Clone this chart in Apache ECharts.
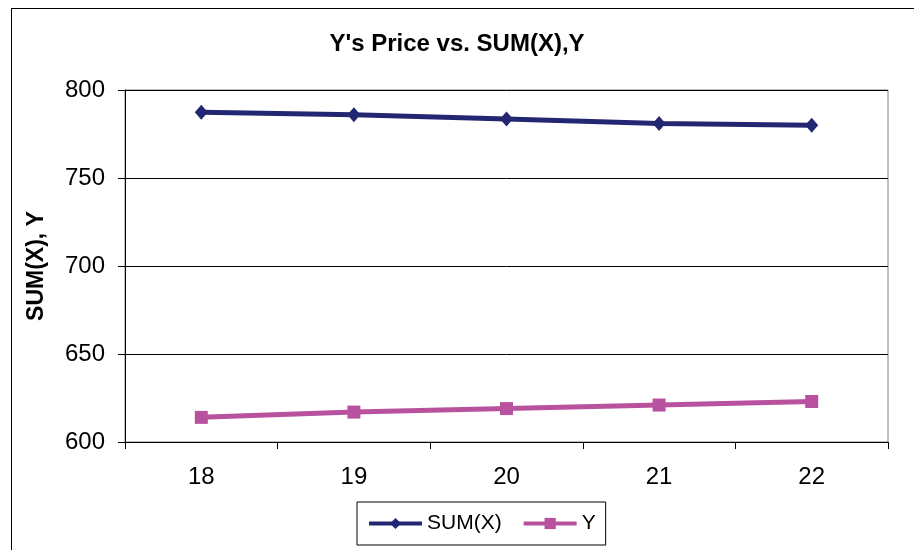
<!DOCTYPE html>
<html>
<head>
<meta charset="utf-8">
<script src="https://cdn.jsdelivr.net/npm/echarts@6/dist/echarts.min.js"></script>
<style>
  html, body { margin: 0; padding: 0; background: #fff; }
  #frame { position: absolute; left: 11px; top: 8px; width: 920px; height: 560px; border: 1px solid #000; box-sizing: border-box; }
  #main { width: 914px; height: 550px; position: absolute; left: 0; top: 0; }
</style>
</head>
<body>
<div id="frame"></div>
<div id="main"></div>
<script>
  // x categories
  var xLabels = ['18', '19', '20', '21', '22'];
  // series values
  var sumX = [787.3, 786, 783.5, 781, 780];
  var yVals = [614, 617, 619, 621, 623];

  var chart = echarts.init(document.getElementById('main'));
  chart.setOption({
    animation: false,
    title: {
      text: "Y's Price vs. SUM(X),Y",
      left: 'center',
      top: 27,
      textStyle: { fontFamily: 'Liberation Sans', fontSize: 24, fontWeight: 'bold', color: '#000' }
    },
    grid: { left: 125, top: 90, width: 763, height: 352, show: true, borderColor: '#808080', borderWidth: 1 },
    legend: {
      bottom: 5,
      left: 357,
      itemWidth: 53,
      itemHeight: 14,
      itemGap: 20,
      borderColor: '#000',
      borderWidth: 1,
      padding: [11, 10, 11, 10],
      lineStyle: { width: 4 },
      textStyle: { fontFamily: 'Liberation Sans', fontSize: 21, color: '#000' },
      data: ['SUM(X)', 'Y']
    },
    xAxis: {
      type: 'category',
      data: xLabels,
      boundaryGap: true,
      axisLine: { lineStyle: { color: '#000', width: 1 } },
      axisTick: { show: true, length: 7, lineStyle: { color: '#000' } },
      axisLabel: { fontFamily: 'Liberation Sans', fontSize: 24, color: '#000', margin: 23 }
    },
    yAxis: {
      type: 'value',
      min: 600,
      max: 800,
      interval: 50,
      name: 'SUM(X), Y',
      nameLocation: 'middle',
      nameGap: 77,
      nameTextStyle: { fontFamily: 'Liberation Sans', fontSize: 23, fontWeight: 'bold', color: '#000' },
      axisLine: { show: true, lineStyle: { color: '#000', width: 1 } },
      axisTick: { show: true, length: 7, lineStyle: { color: '#000' } },
      axisLabel: { fontFamily: 'Liberation Sans', fontSize: 24, color: '#000', margin: 20 },
      splitLine: { lineStyle: { color: '#000', width: 1 } }
    },
    series: [
      {
        name: 'SUM(X)',
        type: 'line',
        data: sumX,
        symbol: 'diamond',
        symbolSize: [13, 15],
        lineStyle: { color: '#232670', width: 5 },
        itemStyle: { color: '#232670' }
      },
      {
        name: 'Y',
        type: 'line',
        data: yVals,
        symbol: 'rect',
        symbolSize: 13,
        lineStyle: { color: '#B8529F', width: 5 },
        itemStyle: { color: '#B8529F' }
      }
    ]
  });
</script>
</body>
</html>
